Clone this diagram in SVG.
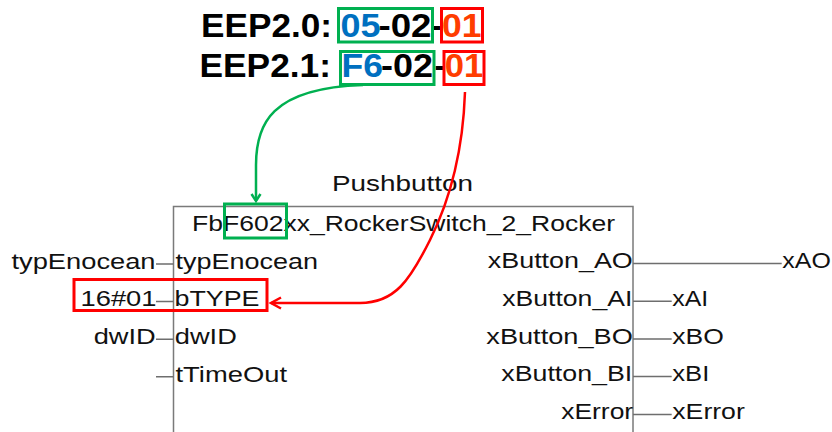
<svg xmlns="http://www.w3.org/2000/svg" width="832" height="432" viewBox="0 0 832 432">
<style>
.lbl{font-family:"Liberation Sans",Arial,sans-serif;font-size:22px;fill:#111}
.eep{font-family:"Liberation Sans",Arial,sans-serif;font-size:33px;font-weight:bold;fill:#000}
.blue{fill:#0070C0}
.org{fill:#FF3D00}
.wire{stroke:#6e6e6e;stroke-width:1.5;fill:none}
.box{stroke:#7a7a7a;stroke-width:1.5;fill:#fff}
.gbox{stroke:#00B050;stroke-width:3;fill:none}
.rbox{stroke:#FF0000;stroke-width:3;fill:none}
</style>
<defs>
<marker id="ga" markerUnits="userSpaceOnUse" markerWidth="16" markerHeight="16" refX="0" refY="0" viewBox="-10 -8 12 16" orient="auto" overflow="visible">
<path d="M-7,-4.5 L0,0 L-7,4.5" fill="none" stroke="#00B050" stroke-width="2.5"/>
</marker>
<marker id="ra" markerUnits="userSpaceOnUse" markerWidth="16" markerHeight="16" refX="0" refY="0" viewBox="-12 -8 14 16" orient="auto" overflow="visible">
<path d="M-10,-5.5 L0,0 L-10,5.5" fill="none" stroke="#FF0000" stroke-width="2.5"/>
</marker>
</defs>

<g id="eep">
<text class="eep" x="201" y="36.7" textLength="131" lengthAdjust="spacingAndGlyphs">EEP2.0:</text>
<text class="eep blue" x="340.5" y="36.7" textLength="40" lengthAdjust="spacingAndGlyphs">05</text>
<text class="eep" x="378.5" y="36.7" textLength="53" lengthAdjust="spacingAndGlyphs">-02</text>
<text class="eep" x="430.5" y="36.7" textLength="11" lengthAdjust="spacingAndGlyphs">-</text>
<text class="eep org" x="442" y="36.7" textLength="39.5" lengthAdjust="spacingAndGlyphs">01</text>
<rect class="gbox" x="338.5" y="8.5" width="94" height="33.5"/>
<rect class="rbox" x="441.5" y="8.5" width="41" height="33.5"/>

<text class="eep" x="199.5" y="77" textLength="131.5" lengthAdjust="spacingAndGlyphs">EEP2.1:</text>
<text class="eep blue" x="341.5" y="77" textLength="41.5" lengthAdjust="spacingAndGlyphs">F6</text>
<text class="eep" x="381" y="77" textLength="52" lengthAdjust="spacingAndGlyphs">-02</text>
<text class="eep" x="434.5" y="77" textLength="10" lengthAdjust="spacingAndGlyphs">-</text>
<text class="eep org" x="444.7" y="77" textLength="38.5" lengthAdjust="spacingAndGlyphs">01</text>
<rect class="gbox" x="340.5" y="51.5" width="93.5" height="33"/>
<rect class="rbox" x="444" y="51.5" width="40" height="33"/>
</g>

<g id="pushbutton">
<rect class="box" x="173.5" y="206.5" width="459.5" height="250"/>
<text class="lbl" x="332" y="190.5" textLength="141" lengthAdjust="spacingAndGlyphs">Pushbutton</text>
<text class="lbl" x="192" y="230.5" textLength="423" lengthAdjust="spacingAndGlyphs">FbF602xx_RockerSwitch_2_Rocker</text>
<rect class="gbox" x="224.5" y="204" width="62" height="34"/>
<text class="lbl" x="175.5" y="268.5" textLength="142.5" lengthAdjust="spacingAndGlyphs">typEnocean</text>
<text class="lbl" x="174.5" y="306" textLength="85" lengthAdjust="spacingAndGlyphs">bTYPE</text>
<text class="lbl" x="174.8" y="343.8" textLength="62" lengthAdjust="spacingAndGlyphs">dwID</text>
<text class="lbl" x="175.5" y="381.5" textLength="111.5" lengthAdjust="spacingAndGlyphs">tTimeOut</text>
<text class="lbl" x="632.8" y="268" text-anchor="end" textLength="145" lengthAdjust="spacingAndGlyphs">xButton_AO</text>
<text class="lbl" x="632.3" y="305.8" text-anchor="end" textLength="130" lengthAdjust="spacingAndGlyphs">xButton_AI</text>
<text class="lbl" x="632.8" y="343.6" text-anchor="end" textLength="146.5" lengthAdjust="spacingAndGlyphs">xButton_BO</text>
<text class="lbl" x="632.3" y="381.4" text-anchor="end" textLength="131" lengthAdjust="spacingAndGlyphs">xButton_BI</text>
<text class="lbl" x="633.2" y="419.4" text-anchor="end" textLength="72" lengthAdjust="spacingAndGlyphs">xError</text>
</g>

<g id="inputs">
<text class="lbl" x="155.5" y="268.5" text-anchor="end" textLength="144" lengthAdjust="spacingAndGlyphs">typEnocean</text>
<text class="lbl" x="156.5" y="306" text-anchor="end" textLength="76" lengthAdjust="spacingAndGlyphs">16#01</text>
<rect class="rbox" x="74" y="279.5" width="193" height="31"/>
<text class="lbl" x="155.7" y="343.8" text-anchor="end" textLength="62" lengthAdjust="spacingAndGlyphs">dwID</text>
</g>

<g id="outputs">
<text class="lbl" x="782.3" y="268" textLength="48.5" lengthAdjust="spacingAndGlyphs">xAO</text>
<text class="lbl" x="672.3" y="305.8" textLength="36" lengthAdjust="spacingAndGlyphs">xAI</text>
<text class="lbl" x="672.3" y="343.6" textLength="51.5" lengthAdjust="spacingAndGlyphs">xBO</text>
<text class="lbl" x="672.3" y="381.4" textLength="37" lengthAdjust="spacingAndGlyphs">xBI</text>
<text class="lbl" x="672.3" y="419.4" textLength="72.5" lengthAdjust="spacingAndGlyphs">xError</text>
</g>

<g id="connectors">
<path class="wire" d="M156,264 H173.5 M156,301.6 H173.5 M156,339.2 H173.5 M156,376.8 H173.5"/>
<path class="wire" d="M633,263.5 H781.7 M633,301.2 H671.7 M633,338.9 H671.7 M633,376.6 H671.7 M633,414.4 H671.7"/>
<path d="M363,85 C270,88 256,125 256,165 L256,201" fill="none" stroke="#00B050" stroke-width="2.5" marker-end="url(#ga)"/>
<path d="M465,92 C463,150 450,200 430,240 C410,280 395,303 360,303 L271,303" fill="none" stroke="#FF0000" stroke-width="2.5" marker-end="url(#ra)"/>
</g>
</svg>
